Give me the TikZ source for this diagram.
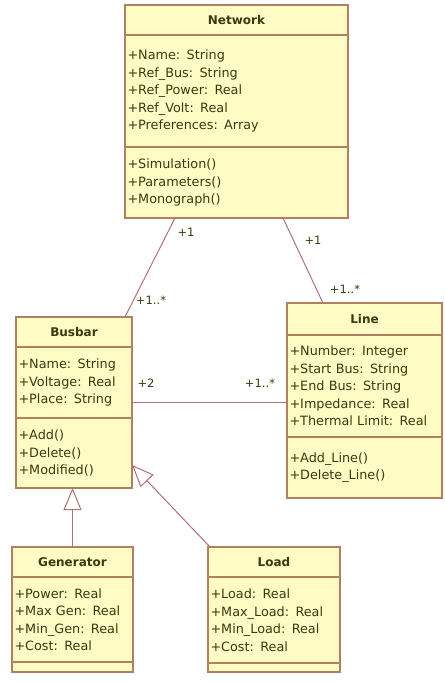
\documentclass[tikz,border=0pt]{standalone}
\usepackage{fontspec}
\setmainfont{DejaVu Sans}
\usetikzlibrary{arrows.meta,positioning}
\definecolor{cfill}{HTML}{FFFBC4}
\definecolor{cborder}{HTML}{B08060}
\definecolor{clink}{HTML}{B07078}
\definecolor{ctext}{HTML}{3A3A10}

\begin{document}
\begin{tikzpicture}[x=1pt,y=-1pt,node distance=0pt,
    head/.style={draw=cborder,fill=cfill,text=ctext,line width=1.2pt,outer sep=0pt,inner sep=0pt,font=\bfseries\fontsize{12}{14}\selectfont},
    body/.style={draw=cborder,fill=cfill,text=ctext,line width=1.2pt,outer sep=0pt,inner xsep=2.5pt,inner ysep=0pt,align=left,font=\fontsize{12.8}{17.5}\selectfont},
    assoc/.style={draw=clink,line width=1pt},
    isa/.style={draw=clink,line width=1pt,-{Triangle[open,length=22pt,width=18pt]}},
    mult/.style={text=ctext,inner sep=0pt,font=\fontsize{11.5}{13}\selectfont}]
    \useasboundingbox (0,0) rectangle (444,682);
    % Network
    \node(net)[head,minimum width=223pt,minimum height=30pt] at (236.5,20) {Network};
    \node(neta)[body,below=of net,text width=218pt,minimum height=112pt] {+Name: String\\+Ref\_Bus: String\\+Ref\_Power: Real\\+Ref\_Volt: Real\\+Preferences: Array};
    \node(netm)[body,below=of neta,text width=218pt,minimum height=71pt] {+Simulation()\\+Parameters()\\+Monograph()};
    % Busbar
    \node(bus)[head,minimum width=116pt,minimum height=30pt] at (74,332) {Busbar};
    \node(busa)[body,below=of bus,text width=111pt,minimum height=71pt] {+Name: String\\+Voltage: Real\\+Place: String};
    \node(busm)[body,below=of busa,text width=111pt,minimum height=70pt] {+Add()\\+Delete()\\+Modified()};
    % Line
    \node(lin)[head,minimum width=155pt,minimum height=32pt] at (364.5,319) {Line};
    \node(lina)[body,below=of lin,text width=150pt,minimum height=102pt] {+Number: Integer\\+Start Bus: String\\+End Bus: String\\+Impedance: Real\\+Thermal Limit: Real};
    \node(linm)[body,below=of lina,text width=150pt,minimum height=61pt] {+Add\_Line()\\+Delete\_Line()};
    % Generator
    \node(gen)[head,minimum width=121pt,minimum height=30pt] at (72.5,562) {Generator};
    \node(gena)[body,below=of gen,text width=116pt,minimum height=85pt] {+Power: Real\\+Max Gen: Real\\+Min\_Gen: Real\\+Cost: Real};
    \node(genm)[body,below=of gena,text width=116pt,minimum height=10pt] {};
    % Load
    \node(lod)[head,minimum width=132pt,minimum height=30pt] at (274,562) {Load};
    \node(loda)[body,below=of lod,text width=127pt,minimum height=86pt] {+Load: Real\\+Max\_Load: Real\\+Min\_Load: Real\\+Cost: Real};
    \node(lodm)[body,below=of loda,text width=127pt,minimum height=9pt] {};
    % associations
    \draw[assoc] ([xshift=50pt]netm.south west)--([xshift=-7pt]bus.north east);
    \draw[assoc] ([xshift=158pt]netm.south west)--([xshift=36pt]lin.north west);
    \draw[assoc] ([yshift=-20pt]busa.east)--([yshift=-20pt]busa.east -| lina.west);
    \node(m1)[mult] at (186,232) {+1};
    \node(m2)[mult] at (151,300) {+1..*};
    \node(m3)[mult] at (313,240) {+1};
    \node(m4)[mult] at (345,289) {+1..*};
    \node(m5)[mult] at (146,383) {+2};
    \node(m6)[mult] at (260,383) {+1..*};
    % generalizations
    \draw[isa] (gen.north)--(gen.north |- busm.south);
    \draw[isa] ([xshift=2pt]lod.north west)--([yshift=-12pt]busm.east);
\end{tikzpicture}
\end{document}
